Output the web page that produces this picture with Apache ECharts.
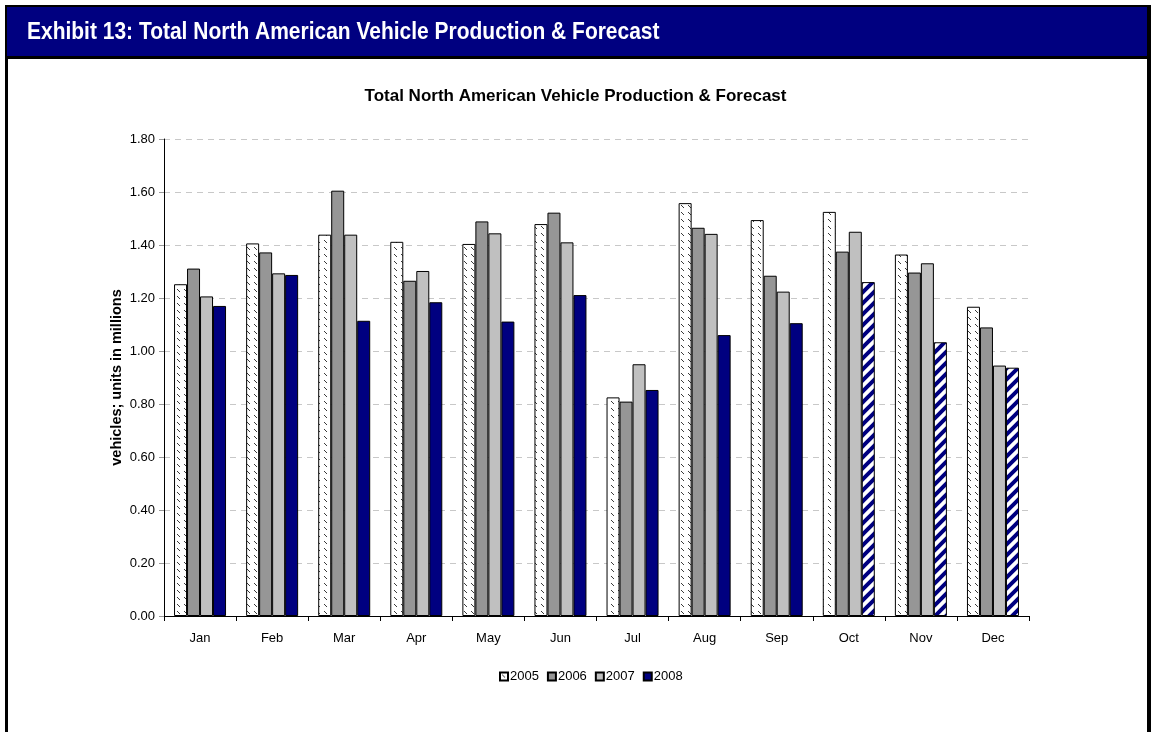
<!DOCTYPE html>
<html>
<head>
<meta charset="utf-8">
<script src="https://cdn.jsdelivr.net/npm/echarts@6/dist/echarts.min.js"></script>
<style>
html,body{margin:0;padding:0;background:#fff;}
#chart{width:1151px;height:732px;}
</style>
</head>
<body>
<div id="chart"></div>
<script>
// ---- data ----
var headerText = 'Exhibit 13: Total North American Vehicle Production & Forecast';
var chartTitle = 'Total North American Vehicle Production & Forecast';
var yAxisName = 'vehicles; units in millions';
var months = ['Jan','Feb','Mar','Apr','May','Jun','Jul','Aug','Sep','Oct','Nov','Dec'];
var seriesNames = ['2005','2006','2007','2008'];
var v2005 = [1.252,1.406,1.439,1.412,1.404,1.479,0.825,1.558,1.494,1.525,1.364,1.167];
var v2006 = [1.311,1.372,1.605,1.265,1.489,1.522,0.809,1.465,1.284,1.375,1.296,1.089];
var v2007 = [1.206,1.293,1.439,1.302,1.444,1.410,0.950,1.442,1.224,1.450,1.331,0.945];
var v2008 = [1.170,1.287,1.114,1.184,1.111,1.211,0.853,1.060,1.105,1.260,1.033,0.937];
var forecastMonths2008 = ['Oct','Nov','Dec'];
var yTicks = [0,0.2,0.4,0.6,0.8,1.0,1.2,1.4,1.6,1.8];

// ---- patterns ----
function makeHatch2005(){
  var c = document.createElement('canvas');
  c.width = 7; c.height = 7;
  var g = c.getContext('2d');
  g.fillStyle = '#ffffff'; g.fillRect(0,0,7,7);
  g.fillStyle = '#3a3a3a';
  g.fillRect(2,2,1,1); g.fillRect(3,3,1,1); g.fillRect(4,4,1,1);
  return c;
}
function makeForecast(){
  var s = 11;
  var c = document.createElement('canvas');
  c.width = s; c.height = s;
  var g = c.getContext('2d');
  g.fillStyle = '#ffffff'; g.fillRect(0,0,s,s);
  g.strokeStyle = '#000080'; g.lineWidth = 4;
  g.beginPath();
  g.moveTo(-s/2, s/2); g.lineTo(s/2, -s/2);
  g.moveTo(0, s); g.lineTo(s, 0);
  g.moveTo(s/2, s*1.5); g.lineTo(s*1.5, s/2);
  g.stroke();
  return c;
}
var hatch2005 = {image: makeHatch2005(), repeat: 'repeat'};
var hatchForecast = {image: makeForecast(), repeat: 'repeat'};

var data2008 = v2008.map(function(v, i){
  if (forecastMonths2008.indexOf(months[i]) >= 0) {
    return {value: v, itemStyle: {color: hatchForecast}};
  }
  return v;
});

var baseItem = {borderColor: '#000', borderWidth: 1};
function bar(name, data, color){
  return {
    name: name, type: 'bar', data: data, barWidth: 13, barGap: '0%',
    itemStyle: Object.assign({color: color}, baseItem),
    emphasis: {disabled: true}
  };
}

var FONT = 'Liberation Sans, Arial, sans-serif';
var chart = echarts.init(document.getElementById('chart'), null, {renderer: 'canvas'});
chart.setOption({
  animation: false,
  backgroundColor: '#ffffff',
  textStyle: {fontFamily: FONT},
  title: {
    text: chartTitle, left: 'center', top: 83,
    textStyle: {fontSize: 17, fontWeight: 'bold', color: '#000', fontFamily: FONT}
  },
  legend: {
    data: seriesNames, top: 665, left: 494,
    itemWidth: 8, itemHeight: 8, itemGap: 8, icon: 'rect',
    textStyle: {fontSize: 13, color: '#000', padding: [0,0,0,-3]}
  },
  grid: {left: 164, right: 122, top: 139, bottom: 116, containLabel: false},
  xAxis: {
    type: 'category', data: months,
    axisLine: {lineStyle: {color: '#000', width: 1}},
    axisTick: {show: true, length: 5, lineStyle: {color: '#000'}},
    axisLabel: {fontSize: 13, color: '#000', margin: 16}
  },
  yAxis: {
    type: 'value', min: yTicks[0], max: yTicks[yTicks.length-1], interval: 0.2,
    name: yAxisName, nameLocation: 'middle', nameGap: 40, nameRotate: 90,
    nameMoveOverlap: false,
    nameTextStyle: {fontSize: 14.5, fontWeight: 'bold', color: '#000'},
    axisLine: {show: true, lineStyle: {color: '#000', width: 1}},
    axisTick: {show: true, length: 5, lineStyle: {color: '#999'}},
    axisLabel: {fontSize: 13, color: '#000', margin: 9, formatter: function(v){return v.toFixed(2);}},
    splitLine: {show: true, lineStyle: {color: '#c8c8c8', type: [6,5], width: 1}}
  },
  series: [
    bar(seriesNames[0], v2005, hatch2005),
    bar(seriesNames[1], v2006, '#969696'),
    bar(seriesNames[2], v2007, '#c0c0c0'),
    bar(seriesNames[3], data2008, '#000080')
  ],
  graphic: [
    {type: 'rect', shape: {x: 5, y: 5, width: 3, height: 727}, style: {fill: '#000'}, z: 100},
    {type: 'rect', shape: {x: 1147, y: 5, width: 4, height: 727}, style: {fill: '#000'}, z: 100},
    {type: 'rect', shape: {x: 5, y: 5, width: 1146, height: 54}, style: {fill: '#000'}, z: 100},
    {type: 'rect', shape: {x: 7, y: 7, width: 1140, height: 49}, style: {fill: '#000080'}, z: 101},
    {type: 'text', x: 27, y: 32, scaleX: 0.874, z: 102,
     style: {text: headerText, fill: '#fff', font: 'bold 24px "Liberation Sans", Arial, sans-serif', textVerticalAlign: 'middle'}}
  ]
});
</script>
</body>
</html>
